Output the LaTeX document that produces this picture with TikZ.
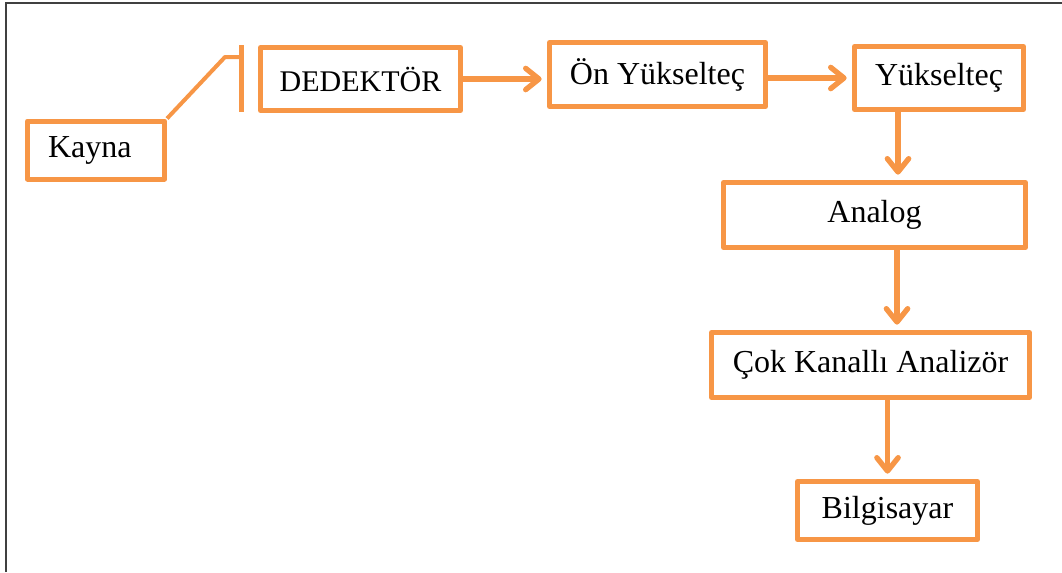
\documentclass[tikz,border=0pt]{standalone}
\usepackage{fontspec}
\setmainfont{Liberation Serif}
\usetikzlibrary{arrows.meta}
\definecolor{turuncu}{HTML}{F79646}

\tikzset{
  blok/.style={draw=turuncu, line width=3.75pt, line join=round, fill=white,
    align=center, inner sep=0pt, font=\fontsize{24}{28}\selectfont},
  ok/.style={draw=turuncu, line width=4pt,
    -{Straight Barb[length=10pt,width=16pt,round]}, shorten >=4pt},
  bag/.style={draw=turuncu, line width=3pt, line join=round},
}

\begin{document}
\begin{tikzpicture}[x=0.75pt,y=-0.75pt]
  \useasboundingbox (0,0) rectangle (1062,572);
  % çerçeve
  \draw[black!75, line width=1.5pt] (6,572) -- (6,3) -- (1062,3);

  % bloklar
  \node[blok, minimum height=43.5pt, text width=72pt, inner xsep=15.4pt, align=left]
    (kayna) at (96,150) {Kayna};
  \node[blok, minimum width=150pt, minimum height=47.25pt, font=\fontsize{22.5}{27}\selectfont]
    (dedektor) at (360.5,79) {DEDEKT\"OR};
  \node[blok, minimum width=162pt, minimum height=48pt] (on) at (657.5,74.5) {\"On Y\"ukselte\c{c}};
  \node[blok, minimum width=126.75pt, minimum height=47.25pt] (yuk) at (939,78) {Y\"ukselte\c{c}};
  \node[blok, minimum width=226.5pt, minimum height=48.75pt] (analog) at (874.5,215) {Analog};
  \node[blok, minimum width=238.5pt, minimum height=48.75pt] (cok) at (870.5,365) {\c{C}ok Kanall\i{} Analiz\"or};
  \node[blok, minimum width=135pt, minimum height=43.5pt] (bilgi) at (887.5,510.5) {Bilgisayar};

  % dedektör girişi
  \coordinate (bar) at (241,57);
  \draw[turuncu, line width=3.75pt] (241,45) -- (241,112);
  \draw[bag] (kayna.north east) -- ([xshift=-12pt]bar) -- (bar);

  % oklar
  \coordinate (sutun) at (898,0);
  \draw[ok] (dedektor.east) -- (dedektor.east -| on.west);
  \draw[ok] (on.east |- yuk.west) -- (yuk.west);
  \draw[ok] (yuk.south -| sutun) -- (analog.north -| sutun);
  \draw[ok] ([xshift=-0.75pt]analog.south -| sutun) -- ([xshift=-0.75pt]cok.north -| sutun);
  \draw[ok] (cok.south -| bilgi.north) -- (bilgi.north);
\end{tikzpicture}
\end{document}
